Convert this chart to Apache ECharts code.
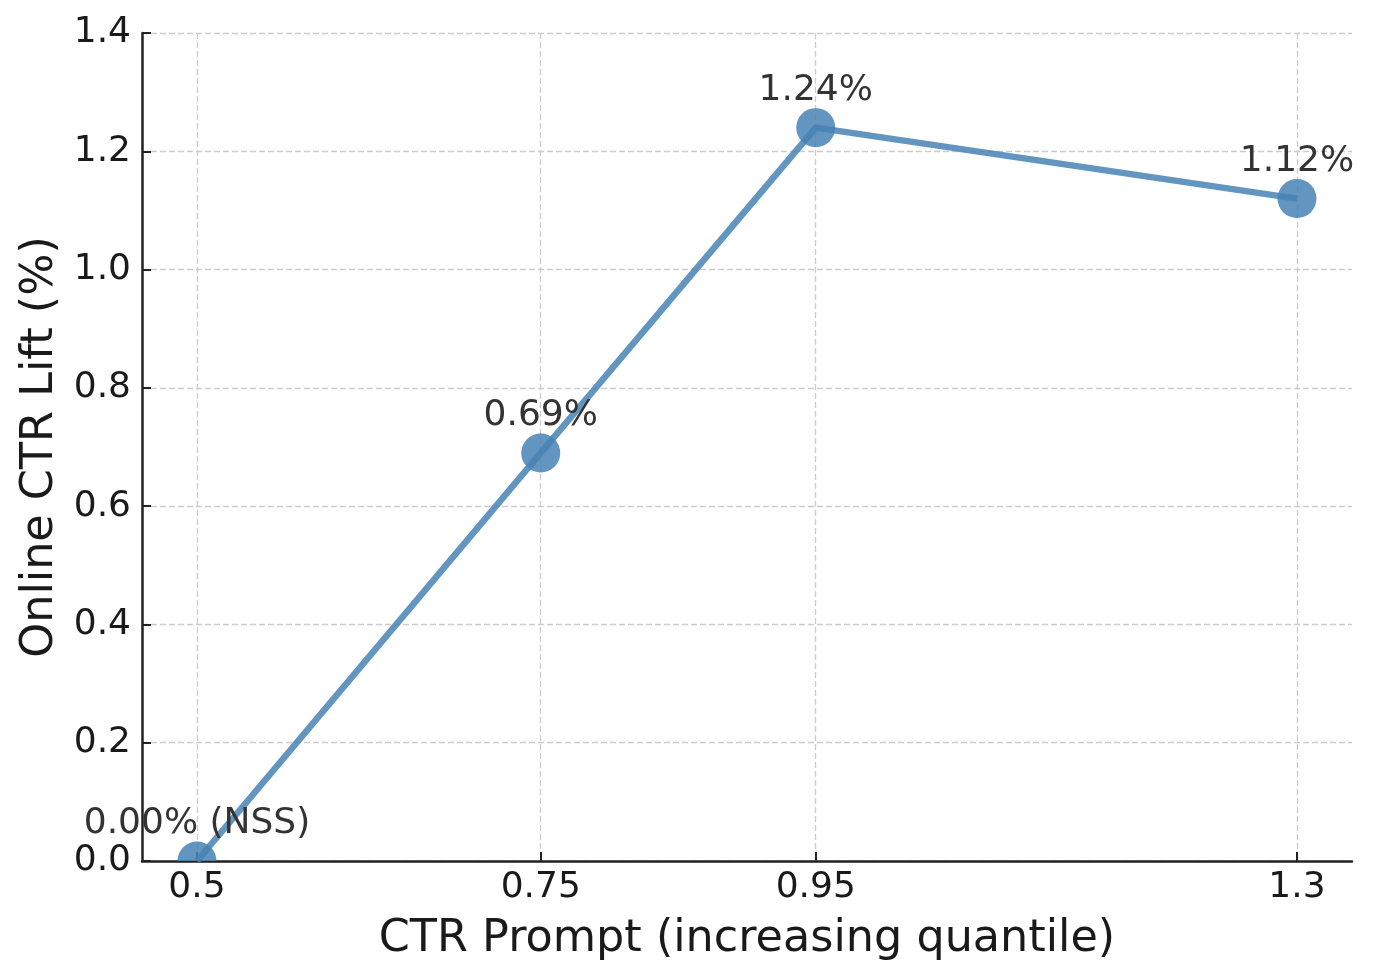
<!DOCTYPE html>
<html>
<head>
<meta charset="utf-8">
<script src="https://cdn.jsdelivr.net/npm/echarts@6/dist/echarts.min.js"></script>
<style>
html,body{margin:0;padding:0;background:#fff;}
#chart{width:1374px;height:979px;}
</style>
</head>
<body>
<div id="chart"></div>
<script>
// ---- data ----
const xValues = [0.5, 0.75, 0.95, 1.3];
const yValues = [0.0, 0.69, 1.24, 1.12];
const pointLabels = ['0.00% (NSS)', '0.69%', '1.24%', '1.12%'];
const xTicks = [0.5, 0.75, 0.95, 1.3];
const xTitle = 'CTR Prompt (increasing quantile)';
const yTitle = 'Online CTR Lift (%)';

const FONT = 'DejaVu Sans';
const LINE_COLOR = 'rgba(70,130,180,0.85)';
const points = xValues.map((x, i) => [x, yValues[i]]);

const chart = echarts.init(document.getElementById('chart'), null, {renderer: 'canvas'});
const axisCommon = {
  axisLine: {show: true, lineStyle: {color: '#222', width: 2.5}},
  axisTick: {show: true, inside: true, length: 9, lineStyle: {color: '#222', width: 2}},
  splitLine: {show: true, lineStyle: {color: '#cccccc', width: 1.3, type: [6, 3]}},
  nameTextStyle: {fontFamily: FONT, fontSize: 44.5, color: '#1a1a1a'}
};
chart.setOption({
  animation: false,
  backgroundColor: '#fff',
  grid: {left: 142, right: 22, top: 33, bottom: 118, containLabel: false},
  xAxis: Object.assign({}, axisCommon, {
    type: 'value', min: 0.46, max: 1.34,
    name: xTitle, nameLocation: 'middle', nameGap: 56,
    axisTick: Object.assign({}, axisCommon.axisTick, {customValues: xTicks}),
    axisLabel: {customValues: xTicks, formatter: v => String(v), fontFamily: FONT, fontSize: 36, color: '#1a1a1a', margin: 9}
  }),
  yAxis: Object.assign({}, axisCommon, {
    type: 'value', min: 0, max: 1.4, interval: 0.2,
    name: yTitle, nameLocation: 'middle', nameGap: 77,
    axisLabel: {formatter: v => v.toFixed(1), fontFamily: FONT, fontSize: 36, color: '#1a1a1a', margin: 11}
  }),
  series: [
    {
      type: 'line',
      data: points,
      symbol: 'circle',
      symbolSize: 1,
      itemStyle: {color: 'rgba(0,0,0,0)'},
      lineStyle: {color: LINE_COLOR, width: 6.5},
      z: 3,
      label: {
        show: true, position: 'inside', offset: [0, -37],
        formatter: p => pointLabels[p.dataIndex],
        fontFamily: FONT, fontSize: 36, color: '#333333'
      },
      emphasis: {disabled: true}
    },
    {
      type: 'custom',
      clip: true,
      data: points,
      z: 2,
      renderItem: (params, api) => {
        const c = api.coord([api.value(0), api.value(1)]);
        return {type: 'circle', shape: {cx: c[0], cy: c[1], r: 19.5}, style: {fill: LINE_COLOR}};
      }
    }
  ]
});
</script>
</body>
</html>
